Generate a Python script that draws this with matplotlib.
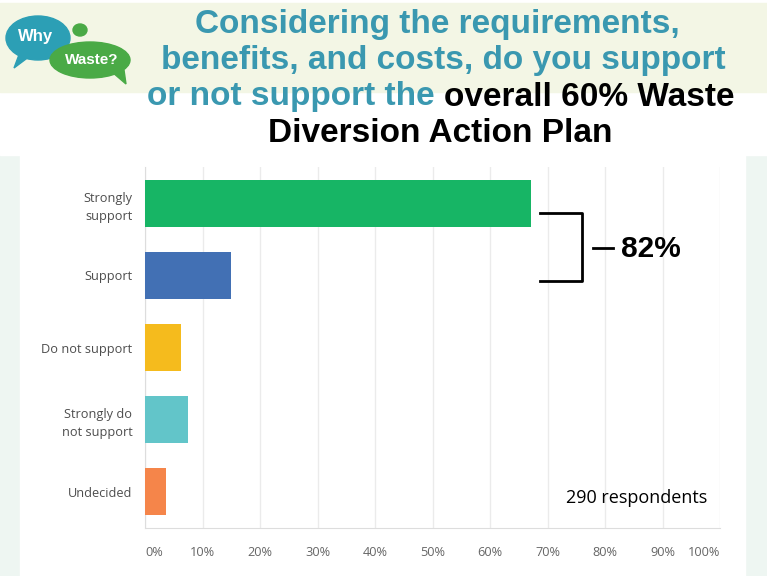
import matplotlib
matplotlib.use("Agg")
import matplotlib.pyplot as plt
from matplotlib.patches import Rectangle, Ellipse, Polygon

# ── data ─────────────────────────────────────────────────────────────
categories = ["Strongly\nsupport", "Support", "Do not support",
              "Strongly do\nnot support", "Undecided"]
shares = [67.2, 15.0, 6.2, 7.5, 3.7]
bar_colors = ["#17b565", "#4270b4", "#f5bb1d", "#62c5c9", "#f5854a"]
tick_values = [0, 10, 20, 30, 40, 50, 60, 70, 80, 90, 100]
tick_labels = [f"{v}%" for v in tick_values]

W, H = 767, 576
TEAL = "#3a98b0"
fig = plt.figure(figsize=(W / 100, H / 100), dpi=100)
fig.patch.set_facecolor("#eef6f2")

def px(x, y):
    return x / W, 1 - y / H

# ── backgrounds ─────────────────────────────────────────────────────
fig.patches.append(Rectangle(px(0, 155), 1, 155 / H, transform=fig.transFigure,
                             color="white", zorder=0))
fig.patches.append(Rectangle(px(20, 576), 725 / W, 421 / H, transform=fig.transFigure,
                             color="white", zorder=0))
fig.patches.append(Rectangle(px(0, 92), 1, 89 / H, transform=fig.transFigure,
                             color="#f3f6e5", zorder=0))

# ── logo ─────────────────────────────────────────────────────────────
fig.patches.append(Ellipse(px(38, 38), 64 / W, 44 / H, transform=fig.transFigure,
                           color="#2c9fb5", zorder=1))
fig.patches.append(Polygon([px(20, 52), px(30, 56), px(14, 68)], closed=True,
                           transform=fig.transFigure, color="#2c9fb5", zorder=1))
fig.patches.append(Ellipse(px(90, 60), 80 / W, 36 / H, transform=fig.transFigure,
                           color="#4aaa46", zorder=2))
fig.patches.append(Polygon([px(112, 72), px(124, 70), px(126, 84)], closed=True,
                           transform=fig.transFigure, color="#4aaa46", zorder=2))
fig.patches.append(Ellipse(px(80, 30), 14 / W, 12 / H, transform=fig.transFigure,
                           color="#4aaa46", zorder=1))
fig.text(*px(36, 36), "Why", color="white", fontsize=12, fontweight="bold",
         ha="center", va="center", family="Liberation Sans", zorder=3)
fig.text(*px(92, 60), "Waste?", color="white", fontsize=11, fontweight="bold",
         ha="center", va="center", family="Liberation Sans", zorder=3)

# ── title ────────────────────────────────────────────────────────────
tkw = dict(fontsize=24, fontweight="bold", family="Liberation Sans",
           ha="center", va="center")
fig.text(*px(437, 25), "Considering the requirements,", color=TEAL, **tkw)
fig.text(*px(443, 60), "benefits, and costs, do you support", color=TEAL, **tkw)
fig.text(*px(440, 133), "Diversion Action Plan", color="black", **tkw)

# mixed colour line
fig.canvas.draw()
r = fig.canvas.get_renderer()
part1 = "or not support the "
part2 = "overall 60% Waste"
kw3 = dict(tkw)
kw3["ha"] = "left"
t1 = fig.text(0, 0, part1, color=TEAL, **kw3)
t2 = fig.text(0, 0, part2, color="black", **kw3)
w1 = t1.get_window_extent(r).width
w2 = t2.get_window_extent(r).width
x0 = 441 - (w1 + w2) / 2
t1.set_position(px(x0, 97))
t2.set_position(px(x0 + w1, 97))

# ── bar chart ────────────────────────────────────────────────────────
ax = fig.add_axes([145 / W, 1 - 528 / H, 575 / W, 361 / H])
ax.set_zorder(5)
ax.set_facecolor("none")
ypos = list(range(len(categories)))
ax.barh(ypos, shares, height=0.65, color=bar_colors, zorder=3)
ax.set_xlim(0, 100)
ax.set_ylim(4.5, -0.5)
ax.set_xticks(tick_values)
ax.set_xticklabels(tick_labels)
ax.set_yticks(ypos)
ax.set_yticklabels(categories, linespacing=1.5)
for lbl in ax.get_xticklabels():
    lbl.set_family("Open Sans")
for lbl in ax.get_yticklabels():
    lbl.set_family("Open Sans")
ax.get_xticklabels()[0].set_ha("left")
ax.get_xticklabels()[-1].set_ha("right")
ax.tick_params(axis="x", length=0, pad=13, labelsize=9.2, labelcolor="#666666")
ax.tick_params(axis="y", length=0, pad=9, labelsize=9.2, labelcolor="#4d4d4d")
ax.grid(axis="x", color="#ebebeb", linewidth=1, zorder=0)
for s in ["top", "right"]:
    ax.spines[s].set_visible(False)
ax.spines["left"].set_color("#dddddd")
ax.spines["bottom"].set_color("#dddddd")

# ── bracket + totals ────────────────────────────────────────────────
bx = [px(540, 213)[0], px(582, 213)[0], px(582, 281)[0], px(540, 281)[0]]
by = [px(540, 213)[1], px(582, 213)[1], px(582, 281)[1], px(540, 281)[1]]
fig.add_artist(plt.Line2D(bx, by, color="black", linewidth=2,
                          transform=fig.transFigure, zorder=6))
fig.add_artist(plt.Line2D([px(593, 0)[0], px(613, 0)[0]], [px(0, 248)[1]] * 2,
                          color="black", linewidth=2, transform=fig.transFigure,
                          zorder=6))
fig.text(*px(621, 249), f"{shares[0] + shares[1]:.0f}%", fontsize=21.5,
         fontweight="bold", family="Liberation Sans", ha="left", va="center",
         zorder=6)
fig.text(*px(637, 498), "290 respondents", fontsize=13, family="Open Sans",
         ha="center", va="center", zorder=6)

fig.savefig("out.png", dpi=100)
